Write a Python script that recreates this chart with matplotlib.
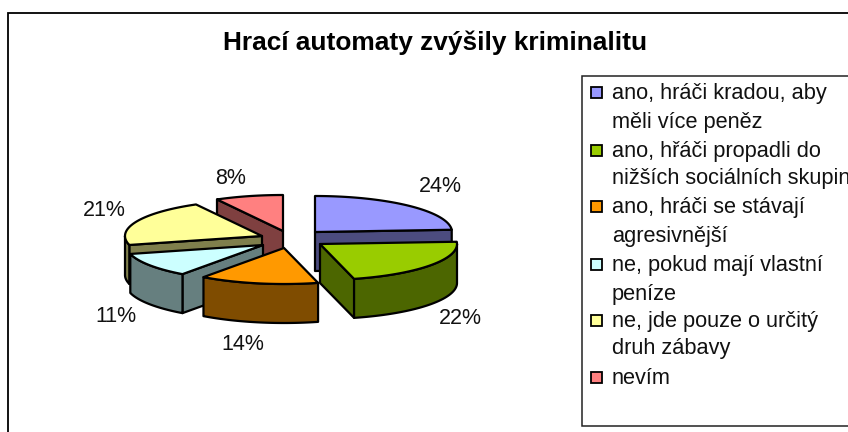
import numpy as np
import matplotlib
matplotlib.use("Agg")
import matplotlib.pyplot as plt
from matplotlib.patches import Polygon, Rectangle

plt.rcParams["font.family"] = ["Liberation Sans", "DejaVu Sans"]

title = "Hrací automaty zvýšily kriminalitu"
values = [24, 22, 14, 11, 21, 8]
pct_labels = ["24%", "22%", "14%", "11%", "21%", "8%"]
legend_lines = [
    ["ano, hráči kradou, aby", "měli více peněz"],
    ["ano, hřáči propadli do", "nižších sociálních skupin"],
    ["ano, hráči se stávají", "agresivnější"],
    ["ne, pokud mají vlastní", "peníze"],
    ["ne, jde pouze o určitý", "druh zábavy"],
    ["nevím"],
]
top_colors = ["#9999FF", "#99CC00", "#FF9900", "#CCFFFF", "#FFFF99", "#FF8080"]
side_colors = ["#4C4C7F", "#4C6600", "#7F4C00", "#667F7F", "#7F7F4C", "#7F4040"]

# layout in pixels
apex = [(315, 232), (320, 244), (284, 248), (263, 245), (262, 236), (283, 231)]
label_pos = [(440, 187), (460, 319), (243, 345), (116, 317), (104, 211), (231, 178)]
draw_order = [5, 0, 4, 3, 2, 1]
rx, ry, depth = 137, 36, 39
lw = 1.6


def rim(cx, cy, a0, a1, n=80):
    t = np.radians(np.linspace(a0, a1, n))
    return np.column_stack([cx + rx * np.sin(t), cy - ry * np.cos(t)])


def draw_wedge(ax, cx, cy, a0, a1, top, side):
    edge = dict(edgecolor="black", linewidth=lw, joinstyle="round")
    # only the radial walls that face the viewer
    walls = []
    if np.sin(np.radians(a0)) < 0:
        walls.append(a0)
    if np.sin(np.radians(a1)) > 0:
        walls.append(a1)
    for a in walls:
        p = rim(cx, cy, a, a, 1)[0]
        wall = [(cx, cy), tuple(p), (p[0], p[1] + depth), (cx, cy + depth)]
        ax.add_patch(Polygon(wall, facecolor=side, **edge))
    # front part of the rim
    lo, hi = max(a0, 90), min(a1, 270)
    if hi > lo:
        arc = rim(cx, cy, lo, hi)
        low = arc[::-1] + [0, depth]
        ax.add_patch(Polygon(np.vstack([arc, low]), facecolor=side, **edge))
    pts = np.vstack([[(cx, cy)], rim(cx, cy, a0, a1)])
    ax.add_patch(Polygon(pts, facecolor=top, **edge))


fig = plt.figure(figsize=(8.48, 4.32), dpi=100)
ax = fig.add_axes([0, 0, 1, 1])
ax.set_xlim(0, 848)
ax.set_ylim(432, 0)
ax.axis("off")

# chart frame runs off the picture on the right and at the bottom
ax.add_patch(Rectangle((8, 12.5), 860, 440, facecolor="white", edgecolor="black", linewidth=1.3))
ax.text(435.5, 43, title, fontsize=18.95, fontweight="bold", ha="center", va="center")

angles = np.concatenate([[0], np.cumsum(values) / np.sum(values) * 360])
for i in draw_order:
    draw_wedge(ax, apex[i][0], apex[i][1], angles[i], angles[i + 1], top_colors[i], side_colors[i])

for (x, y), s in zip(label_pos, pct_labels):
    ax.text(x, y, s, fontsize=15.5, ha="center", va="center", color="#111111")

# legend
ax.add_patch(Rectangle((581.5, 76), 300, 350, facecolor="white", edgecolor="#222222", linewidth=1.1))
line_y = [92, 121, 150, 177, 206, 235, 264, 293, 320, 347, 377]
k = 0
for lines, c in zip(legend_lines, top_colors):
    ax.add_patch(Rectangle((591, line_y[k] - 5.5), 11, 11, facecolor=c, edgecolor="black", linewidth=1.3))
    for s in lines:
        ax.text(612, line_y[k] + 1.5, s, fontsize=15.7, ha="left", va="center", color="#111111")
        k += 1

fig.savefig("out.png", dpi=100)
